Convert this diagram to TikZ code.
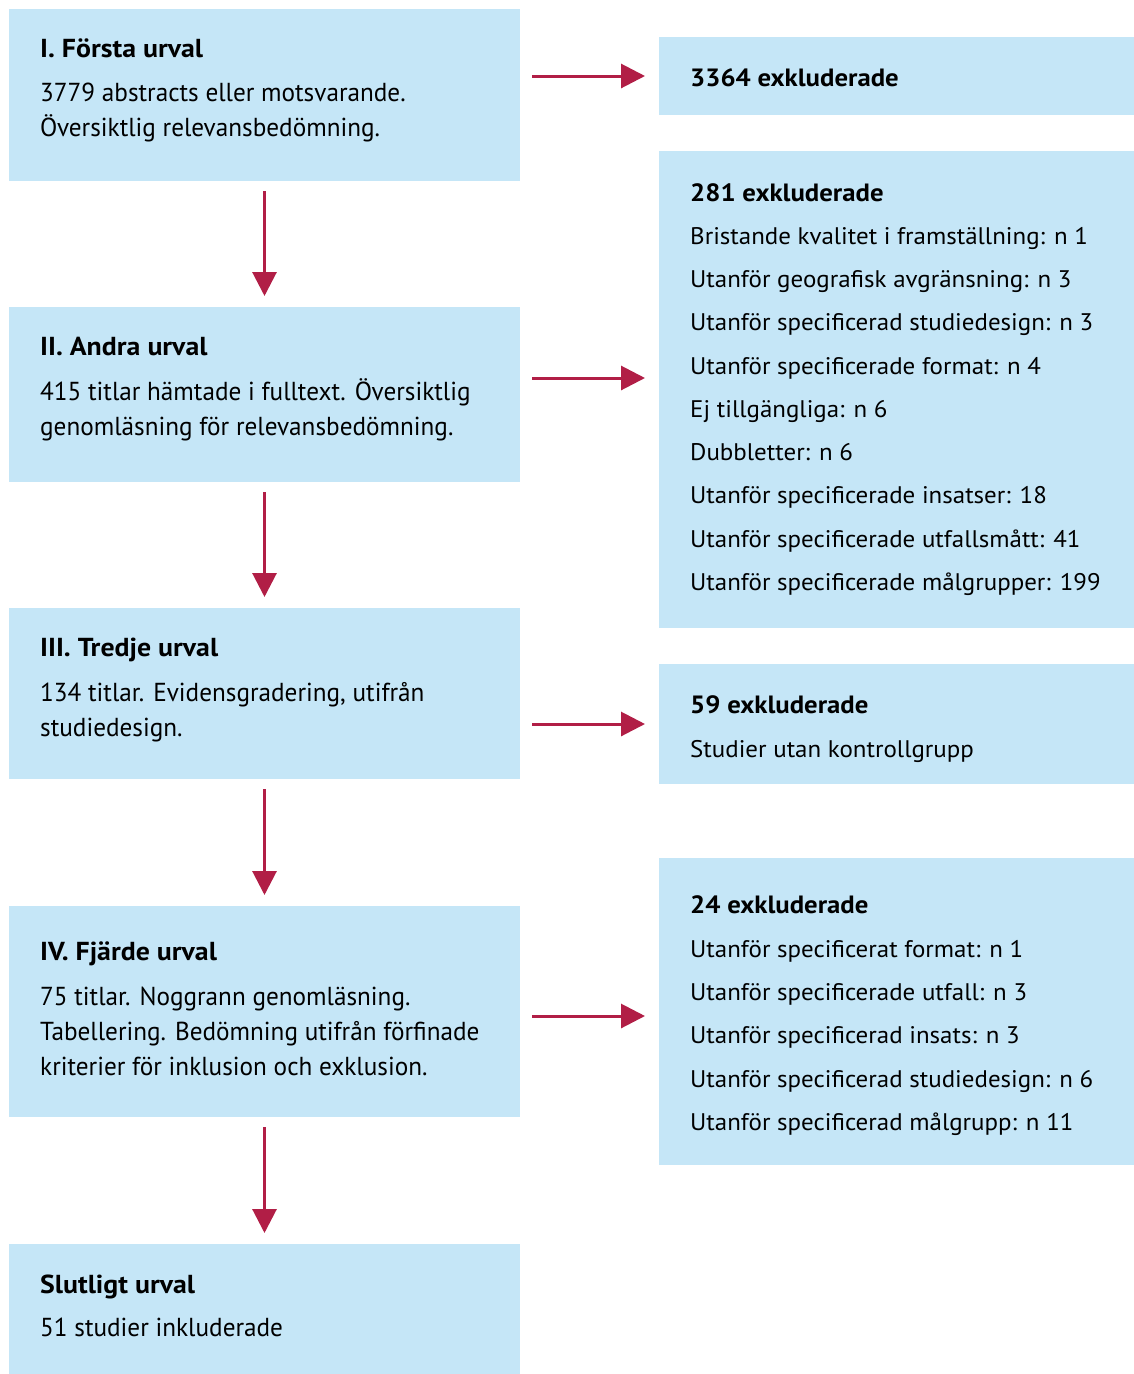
\documentclass[tikz,border=0pt]{standalone}
\usepackage{fontspec}
\setmainfont{PT Sans}
\newfontfamily\fontL{PT Sans}[FakeStretch=0.97]
\newfontfamily\fontT{PT Sans}[FakeStretch=1.07]
\newfontfamily\fontR{PT Sans}[FakeStretch=1.04]
\usetikzlibrary{arrows.meta}
\definecolor{boxblue}{HTML}{C5E6F7}
\definecolor{arrred}{HTML}{B11E46}
\begin{document}
\begin{tikzpicture}[x=1pt,y=-1pt,
  box/.style={fill=boxblue, draw=none, inner sep=0pt, outer sep=0pt, anchor=north west},
  ttl/.style={anchor=base west, inner sep=0pt, font=\fontT\fontsize{26}{30}\selectfont\bfseries},
  txt/.style={anchor=base west, inner sep=0pt, font=\fontL\fontsize{26}{30}\selectfont},
  rttl/.style={anchor=base west, inner sep=0pt, font=\fontT\fontsize{25}{30}\selectfont\bfseries},
  rtxt/.style={anchor=base west, inner sep=0pt, font=\fontR\fontsize{24}{30}\selectfont},
  arr/.style={draw=arrred, line width=3pt, -{Triangle[length=24pt,width=24pt]}}]
\useasboundingbox (0,0) rectangle (1134,1374);
% left boxes
\node[box, minimum width=511pt, minimum height=172pt] (b1) at (9,9) {};
\node[box, minimum width=511pt, minimum height=175pt] (b2) at (9,307) {};
\node[box, minimum width=511pt, minimum height=171pt] (b3) at (9,608) {};
\node[box, minimum width=511pt, minimum height=211pt] (b4) at (9,906) {};
\node[box, minimum width=511pt, minimum height=130pt] (b5) at (9,1244) {};
% right boxes
\node[box, minimum width=475pt, minimum height=78pt] (r1) at (659,37) {};
\node[box, minimum width=475pt, minimum height=477pt] (r2) at (659,151) {};
\node[box, minimum width=475pt, minimum height=120pt] (r3) at (659,664) {};
\node[box, minimum width=475pt, minimum height=307pt] (r4) at (659,858) {};
% left texts
\node[ttl] (t1) at (40,57) {I. Första urval};
\node[txt] (t1a) at (40,101.5) {3779 abstracts eller motsvarande.};
\node[txt] (t1b) at (40,136.5) {Översiktlig relevansbedömning.};
\node[ttl] (t2) at (40,355) {II. Andra urval};
\node[txt] (t2a) at (40,400) {415 titlar hämtade i fulltext. Översiktlig};
\node[txt] (t2b) at (40,435) {genomläsning för relevansbedömning.};
\node[ttl] (t3) at (40,656) {III. Tredje urval};
\node[txt] (t3a) at (40,701) {134 titlar. Evidensgradering, utifrån};
\node[txt] (t3b) at (40,736) {studiedesign.};
\node[ttl] (t4) at (40,960) {IV. Fjärde urval};
\node[txt] (t4a) at (40,1005) {75 titlar. Noggrann genomläsning.};
\node[txt] (t4b) at (40,1040) {Tabellering. Bedömning utifrån förfinade};
\node[txt] (t4c) at (40,1075) {kriterier för inklusion och exklusion.};
\node[ttl] (t5) at (40,1293) {Slutligt urval};
\node[txt] (t5a) at (40,1336) {51 studier inkluderade};
% right texts
\node[rttl] (s1) at (690,86) {3364 exkluderade};
\node[rttl] (s2) at (690,201) {281 exkluderade};
\node[rtxt] (s2a) at (690,244) {Bristande kvalitet i framställning: n 1};
\node[rtxt] (s2b) at (690,287) {Utanför geografisk avgränsning: n 3};
\node[rtxt] (s2c) at (690,330) {Utanför specificerad studiedesign: n 3};
\node[rtxt] (s2d) at (690,374) {Utanför specificerade format: n 4};
\node[rtxt] (s2e) at (690,417) {Ej tillgängliga: n 6};
\node[rtxt] (s2f) at (690,460) {Dubbletter: n 6};
\node[rtxt] (s2g) at (690,503) {Utanför specificerade insatser: 18};
\node[rtxt] (s2h) at (690,547) {Utanför specificerade utfallsmått: 41};
\node[rtxt] (s2i) at (690,590) {Utanför specificerade målgrupper: 199};
\node[rttl] (s3) at (690,713) {59 exkluderade};
\node[rtxt] (s3a) at (690,757) {Studier utan kontrollgrupp};
\node[rttl] (s4) at (690,913) {24 exkluderade};
\node[rtxt] (s4a) at (690,957) {Utanför specificerat format: n 1};
\node[rtxt] (s4b) at (690,1000) {Utanför specificerade utfall: n 3};
\node[rtxt] (s4c) at (690,1043) {Utanför specificerad insats: n 3};
\node[rtxt] (s4d) at (690,1087) {Utanför specificerad studiedesign: n 6};
\node[rtxt] (s4e) at (690,1130) {Utanför specificerad målgrupp: n 11};
% vertical arrows
\draw[arr, shorten <=10pt, shorten >=11pt] (b1.south) -- (b2.north);
\draw[arr, shorten <=10pt, shorten >=11pt] (b2.south) -- (b3.north);
\draw[arr, shorten <=10pt, shorten >=11pt] (b3.south) -- (b4.north);
\draw[arr, shorten <=10pt, shorten >=11pt] (b4.south) -- (b5.north);
% horizontal arrows
\draw[arr, shorten <=12pt, shorten >=14pt] (b1.east |- 0,76) -- (r1.west |- 0,76);
\draw[arr, shorten <=12pt, shorten >=14pt] (b2.east |- 0,378) -- (r2.west |- 0,378);
\draw[arr, shorten <=12pt, shorten >=14pt] (b3.east |- 0,724) -- (r3.west |- 0,724);
\draw[arr, shorten <=12pt, shorten >=14pt] (b4.east |- 0,1016) -- (r4.west |- 0,1016);
\end{tikzpicture}
\end{document}
